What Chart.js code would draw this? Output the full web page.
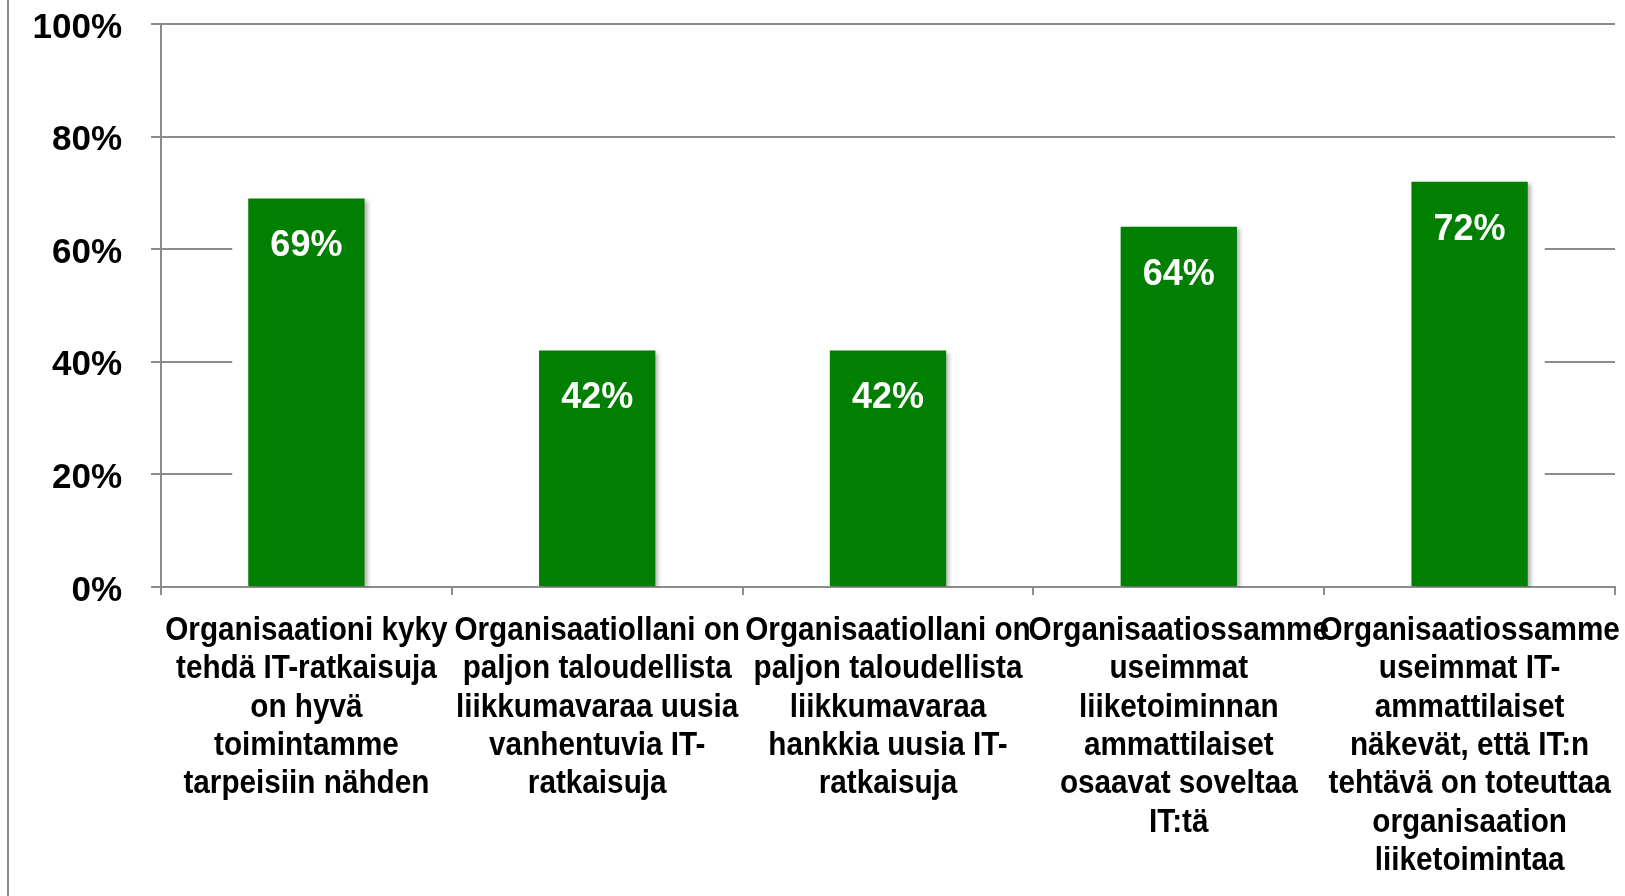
<!DOCTYPE html>
<html>
<head>
<meta charset="utf-8">
<script src="https://cdn.jsdelivr.net/npm/chart.js@4/dist/chart.umd.min.js"></script>
<style>
    body { margin: 0; background: #fff; }
    #wrap { position: relative; width: 1625px; height: 896px; }
</style>
</head>
<body>
<div id="wrap"><canvas id="itChart"></canvas></div>
<script>
const categories = [
    ['Organisaationi kyky', 'tehdä IT-ratkaisuja', 'on hyvä', 'toimintamme', 'tarpeisiin nähden'],
    ['Organisaatiollani on', 'paljon taloudellista', 'liikkumavaraa uusia', 'vanhentuvia IT-', 'ratkaisuja'],
    ['Organisaatiollani on', 'paljon taloudellista', 'liikkumavaraa', 'hankkia uusia IT-', 'ratkaisuja'],
    ['Organisaatiossamme', 'useimmat', 'liiketoiminnan', 'ammattilaiset', 'osaavat soveltaa', 'IT:tä'],
    ['Organisaatiossamme', 'useimmat IT-', 'ammattilaiset', 'näkevät, että IT:n', 'tehtävä on toteuttaa', 'organisaation', 'liiketoimintaa']
];
const shares = [69, 42, 42, 64, 72];
const yTicks = [0, 20, 40, 60, 80, 100];

const lineGray = '#8c8c8c';

// white plot area hides the lower gridlines between the bars, bars get a soft shadow
const barShadow = {
    id: 'barShadow',
    beforeDatasetsDraw(chart) {
        const ctx = chart.ctx;
        const meta = chart.getDatasetMeta(0);
        const first = meta.data[0];
        const last = meta.data[meta.data.length - 1];
        const y = chart.scales.y;
        ctx.save();
        ctx.fillStyle = '#fff';
        const x0 = first.x - first.width / 2 - 16;
        const x1 = last.x + last.width / 2 + 17;
        const top = y.getPixelForValue(75);
        ctx.fillRect(x0, top, x1 - x0, y.getPixelForValue(0) - 2 - top);
        ctx.restore();
        ctx.save();
        ctx.shadowColor = 'rgba(0,0,0,0.28)';
        ctx.shadowOffsetX = 3;
        ctx.shadowOffsetY = 2;
        ctx.shadowBlur = 4;
    },
    afterDatasetsDraw(chart) {
        chart.ctx.restore();
    }
};

const valueLabels = {
    id: 'valueLabels',
    afterDatasetsDraw(chart) {
        const ctx = chart.ctx;
        ctx.save();
        ctx.fillStyle = '#fff';
        ctx.font = 'bold 36px "Liberation Sans", Arial, sans-serif';
        ctx.textAlign = 'center';
        ctx.textBaseline = 'middle';
        chart.getDatasetMeta(0).data.forEach((bar, i) => {
            ctx.fillText(shares[i] + '%', bar.x, bar.y + 48);
        });
        ctx.restore();
    }
};

// category labels in a narrow bold face (no Arial Narrow here, so squeeze Liberation Sans)
const narrowLabels = {
    id: 'narrowLabels',
    afterDraw(chart) {
        const ctx = chart.ctx;
        const xs = chart.scales.x;
        ctx.save();
        ctx.fillStyle = '#000';
        ctx.font = 'bold 33px "Liberation Sans", Arial, sans-serif';
        ctx.textAlign = 'center';
        ctx.textBaseline = 'alphabetic';
        categories.forEach((lines, i) => {
            const cx = xs.getPixelForTick(i);
            lines.forEach((line, j) => {
                ctx.save();
                ctx.translate(cx, xs.top + 53 + j * 38.3);
                ctx.scale(0.9, 1);
                ctx.fillText(line, 0, 0);
                ctx.restore();
            });
        });
        ctx.restore();
    }
};

const frameLine = {
    id: 'frameLine',
    afterDraw(chart) {
        const ctx = chart.ctx;
        ctx.save();
        ctx.strokeStyle = lineGray;
        ctx.lineWidth = 2;
        ctx.beginPath();
        ctx.moveTo(8, 0);
        ctx.lineTo(8, chart.height);
        ctx.stroke();
        ctx.restore();
    }
};

const itChart = new Chart(document.getElementById('itChart'), {
    type: 'bar',
    data: {
        labels: categories,
        datasets: [{
            data: shares,
            backgroundColor: '#007f00',
            borderWidth: 0,
            categoryPercentage: 1,
            barPercentage: 0.4
        }]
    },
    options: {
        responsive: true,
        maintainAspectRatio: false,
        animation: false,
        layout: { padding: { top: 24, right: 10, left: 0, bottom: 0 } },
        plugins: {
            legend: { display: false },
            tooltip: { enabled: false }
        },
        scales: {
            x: {
                grid: {
                    offset: true,
                    drawOnChartArea: false,
                    drawTicks: true,
                    tickLength: 8,
                    color: lineGray,
                    lineWidth: 2
                },
                border: { color: lineGray, width: 2 },
                ticks: { display: false },
                afterFit: s => {
                    s.height = 896 - 587;
                    s.paddingLeft = 0;
                    s.paddingRight = 0;
                }
            },
            y: {
                min: 0,
                max: 100,
                afterBuildTicks: s => { s.ticks = yTicks.map(v => ({ value: v })); },
                grid: {
                    color: lineGray,
                    lineWidth: 2,
                    tickLength: 10
                },
                border: { color: lineGray, width: 2 },
                ticks: {
                    color: '#000',
                    padding: 29,
                    labelOffset: 4,
                    callback: v => v + '%',
                    font: { family: '"Liberation Sans", Arial, sans-serif', weight: 'bold', size: 35 }
                },
                afterFit: s => {
                    s.width = 161;
                    s.paddingTop = 0;
                    s.paddingBottom = 0;
                }
            }
        }
    },
    plugins: [barShadow, valueLabels, narrowLabels, frameLine]
});
</script>
</body>
</html>
